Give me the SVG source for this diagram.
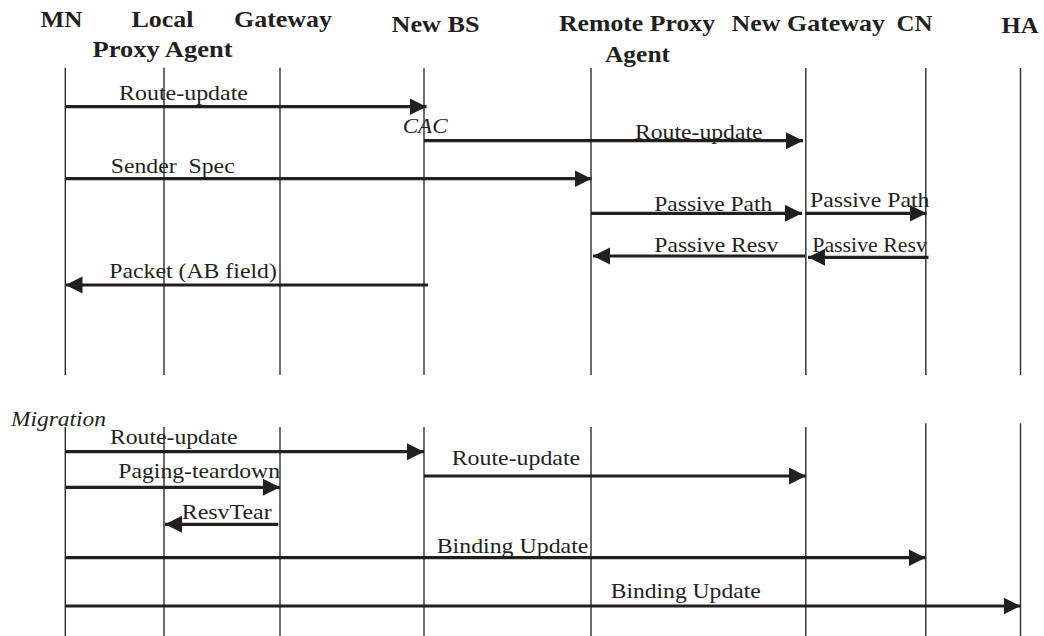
<svg xmlns="http://www.w3.org/2000/svg" width="1044" height="636" viewBox="0 0 1044 636">
<style>
.hdr{font-family:"Liberation Serif","Times New Roman",serif;font-weight:bold;font-size:23.5px;fill:#231f20}
.lbl{font-family:"Liberation Serif","Times New Roman",serif;font-size:22px;fill:#231f20}
.it{font-style:italic}
.life{stroke:#2b2b2b;stroke-width:1.4;fill:none}
.msg{stroke:#231f20;stroke-width:3.2;fill:none;marker-end:url(#ah)}
</style>
<defs>
<marker id="ah" markerUnits="userSpaceOnUse" markerWidth="18" markerHeight="18" refX="17" refY="8.5" orient="auto" viewBox="0 0 18 18">
<path d="M0,0 L17,8.5 L0,17 z" fill="#231f20"/>
</marker>
</defs>
<rect width="1044" height="636" fill="#ffffff"/>

<g id="node-mn">
<text class="hdr" x="40.5" y="27.3" textLength="42" lengthAdjust="spacingAndGlyphs">MN</text>
<line class="life" x1="65.3" y1="67.7" x2="65.3" y2="375"/>
<line class="life" x1="65.3" y1="427" x2="65.3" y2="636"/>
</g>
<g id="node-local-proxy">
<text class="hdr" x="131.5" y="27.3" textLength="62" lengthAdjust="spacingAndGlyphs">Local</text>
<text class="hdr" x="92.5" y="57.3" textLength="140" lengthAdjust="spacingAndGlyphs">Proxy Agent</text>
<line class="life" x1="164" y1="67.7" x2="164" y2="375"/>
<line class="life" x1="164" y1="427" x2="164" y2="636"/>
</g>
<g id="node-gateway">
<text class="hdr" x="234" y="27.3" textLength="98" lengthAdjust="spacingAndGlyphs">Gateway</text>
<line class="life" x1="280" y1="67.7" x2="280" y2="375"/>
<line class="life" x1="280" y1="427" x2="280" y2="636"/>
</g>
<g id="node-new-bs">
<text class="hdr" x="391.5" y="31.7" textLength="88" lengthAdjust="spacingAndGlyphs">New BS</text>
<line class="life" x1="424" y1="68.3" x2="424" y2="375"/>
<line class="life" x1="424" y1="427" x2="424" y2="636"/>
</g>
<g id="node-remote-proxy">
<text class="hdr" x="559" y="30.7" textLength="156" lengthAdjust="spacingAndGlyphs">Remote Proxy</text>
<text class="hdr" x="605" y="61.7" textLength="65" lengthAdjust="spacingAndGlyphs">Agent</text>
<line class="life" x1="591" y1="68" x2="591" y2="375"/>
<line class="life" x1="591" y1="427" x2="591" y2="636"/>
</g>
<g id="node-new-gateway">
<text class="hdr" x="731.5" y="30.7" textLength="153.5" lengthAdjust="spacingAndGlyphs">New Gateway</text>
<line class="life" x1="805.8" y1="68" x2="805.8" y2="375"/>
<line class="life" x1="805.8" y1="427" x2="805.8" y2="636"/>
</g>
<g id="node-cn">
<text class="hdr" x="896.5" y="30.7" textLength="36" lengthAdjust="spacingAndGlyphs">CN</text>
<line class="life" x1="925.8" y1="68" x2="925.8" y2="375"/>
<line class="life" x1="925.8" y1="423.3" x2="925.8" y2="636"/>
</g>
<g id="node-ha">
<text class="hdr" x="1001.5" y="33.3" textLength="37" lengthAdjust="spacingAndGlyphs">HA</text>
<line class="life" x1="1020.5" y1="68" x2="1020.5" y2="375"/>
<line class="life" x1="1020.5" y1="423.3" x2="1020.5" y2="636"/>
</g>

<g id="annotations">
<text class="lbl it" x="402.7" y="133.3" textLength="45" lengthAdjust="spacingAndGlyphs">CAC</text>
<text class="lbl it" x="11" y="426" textLength="95" lengthAdjust="spacingAndGlyphs">Migration</text>
</g>

<g id="connectors">
<path class="msg" d="M65,106.7 H426.5"/>
<text class="lbl" x="119" y="100" textLength="129" lengthAdjust="spacingAndGlyphs">Route-update</text>

<path class="msg" d="M424,140.7 H803"/>
<text class="lbl" x="635" y="139.3" textLength="127.5" lengthAdjust="spacingAndGlyphs">Route-update</text>

<path class="msg" d="M65,178.7 H591.5"/>
<text class="lbl" x="110.7" y="173.3" textLength="124" lengthAdjust="spacingAndGlyphs" xml:space="preserve">Sender  Spec</text>

<path class="msg" d="M591,213.3 H802"/>
<text class="lbl" x="654.3" y="210.7" textLength="118" lengthAdjust="spacingAndGlyphs">Passive Path</text>

<path class="msg" d="M806,213.3 H926.5"/>
<text class="lbl" x="810" y="206.7" textLength="119.5" lengthAdjust="spacingAndGlyphs">Passive Path</text>

<path class="msg" d="M805,256 H593"/>
<text class="lbl" x="654.3" y="251.7" textLength="124" lengthAdjust="spacingAndGlyphs">Passive Resv</text>

<path class="msg" d="M928.5,257.3 H808"/>
<text class="lbl" x="812.3" y="251.7" textLength="114.5" lengthAdjust="spacingAndGlyphs">Passive Resv</text>

<path class="msg" d="M428,285 H65.5"/>
<text class="lbl" x="109.3" y="277.7" textLength="167.5" lengthAdjust="spacingAndGlyphs">Packet (AB field)</text>

<path class="msg" d="M65,451.7 H424"/>
<text class="lbl" x="110" y="444" textLength="127.5" lengthAdjust="spacingAndGlyphs">Route-update</text>

<path class="msg" d="M424,476 H806"/>
<text class="lbl" x="451.7" y="465" textLength="128.5" lengthAdjust="spacingAndGlyphs">Route-update</text>

<path class="msg" d="M65,487.3 H280"/>
<text class="lbl" x="118.3" y="478.3" textLength="161.7" lengthAdjust="spacingAndGlyphs">Paging-teardown</text>

<path class="msg" d="M278.3,524.3 H165"/>
<text class="lbl" x="181.7" y="519" textLength="90" lengthAdjust="spacingAndGlyphs">ResvTear</text>

<path class="msg" d="M65,557.7 H925.5"/>
<text class="lbl" x="436.7" y="553.3" textLength="151.7" lengthAdjust="spacingAndGlyphs">Binding Update</text>

<path class="msg" d="M65,606 H1020.5"/>
<text class="lbl" x="610.7" y="598.3" textLength="150" lengthAdjust="spacingAndGlyphs">Binding Update</text>
</g>
</svg>
